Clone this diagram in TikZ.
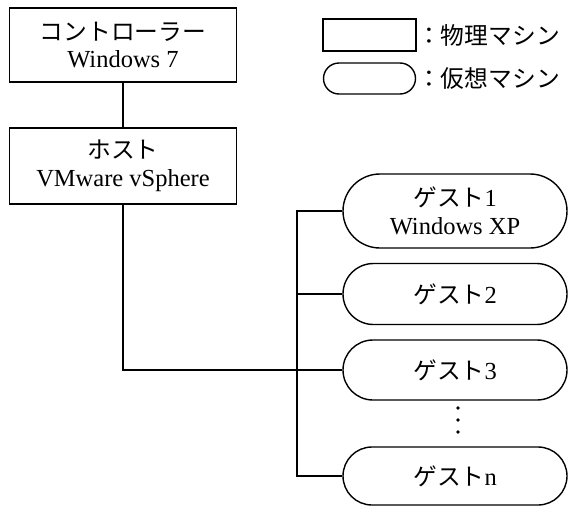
\documentclass[tikz,border=0pt]{standalone}
\usepackage{fontspec}
\setmainfont{Liberation Serif}
\newfontfamily\jp[Scale=0.97]{Noto Sans CJK JP}
\usetikzlibrary{shapes.misc}
\begin{document}
\begin{tikzpicture}[x=1pt,y=-1pt,
  txt/.style={font=\fontsize{24.5}{27.5}\selectfont, align=center, inner sep=0pt},
  phys/.style={txt, draw, line width=1.4pt, rectangle},
  virt/.style={txt, draw, line width=1.4pt, rounded rectangle},
  conn/.style={line width=1.4pt},
  dotm/.style={circle, fill=black, inner sep=0pt, minimum size=3.8pt}]
\useasboundingbox (0,0) rectangle (569,506);
% physical machines
\node[phys, minimum width=227pt, minimum height=74pt] (ctrl) at (123,45) {{\jp コントローラー}\\Windows 7};
\node[phys, minimum width=227pt, minimum height=76pt] (host) at (123,166) {{\jp ホスト}\\VMware vSphere};
% virtual machines
\node[virt, minimum width=224pt, minimum height=74pt] (g1) at (455,211) {{\jp ゲスト}1\\Windows XP};
\node[virt, minimum width=224pt, minimum height=61pt] (g2) at (455,294) {{\jp ゲスト}2};
\node[virt, minimum width=224pt, minimum height=60pt] (g3) at (455,370) {{\jp ゲスト}3};
\node[virt, minimum width=224pt, minimum height=58pt] (gn) at (455,476) {{\jp ゲスト}n};
% dots
\node[dotm] (d1) at (458,408) {};
\node[dotm] (d2) at (458,420) {};
\node[dotm] (d3) at (458,432) {};
% legend
\node[draw, line width=1.4pt, rectangle, minimum width=93pt, minimum height=32pt, inner sep=0pt] (lp) at (369.5,35) {};
\node[draw, line width=1.4pt, rounded rectangle, minimum width=92pt, minimum height=31pt, inner sep=0pt] (lv) at (369.5,78.5) {};
\node[txt, anchor=west] (lpt) at (417,35) {\jp ：物理マシン};
\node[txt, anchor=west] (lvt) at (417,78.5) {\jp ：仮想マシン};
% connectors
\coordinate (bt) at (297,211);
\coordinate (bb) at (297,476);
\draw[conn] (ctrl.south) -- (host.north);
\draw[conn] (host.south) |- (g3.west);
\draw[conn] (g1.west) -- (bt) -- (bb) -- (gn.west);
\draw[conn] (g2.west) -- (g2.west -| bt);
\end{tikzpicture}
\end{document}
